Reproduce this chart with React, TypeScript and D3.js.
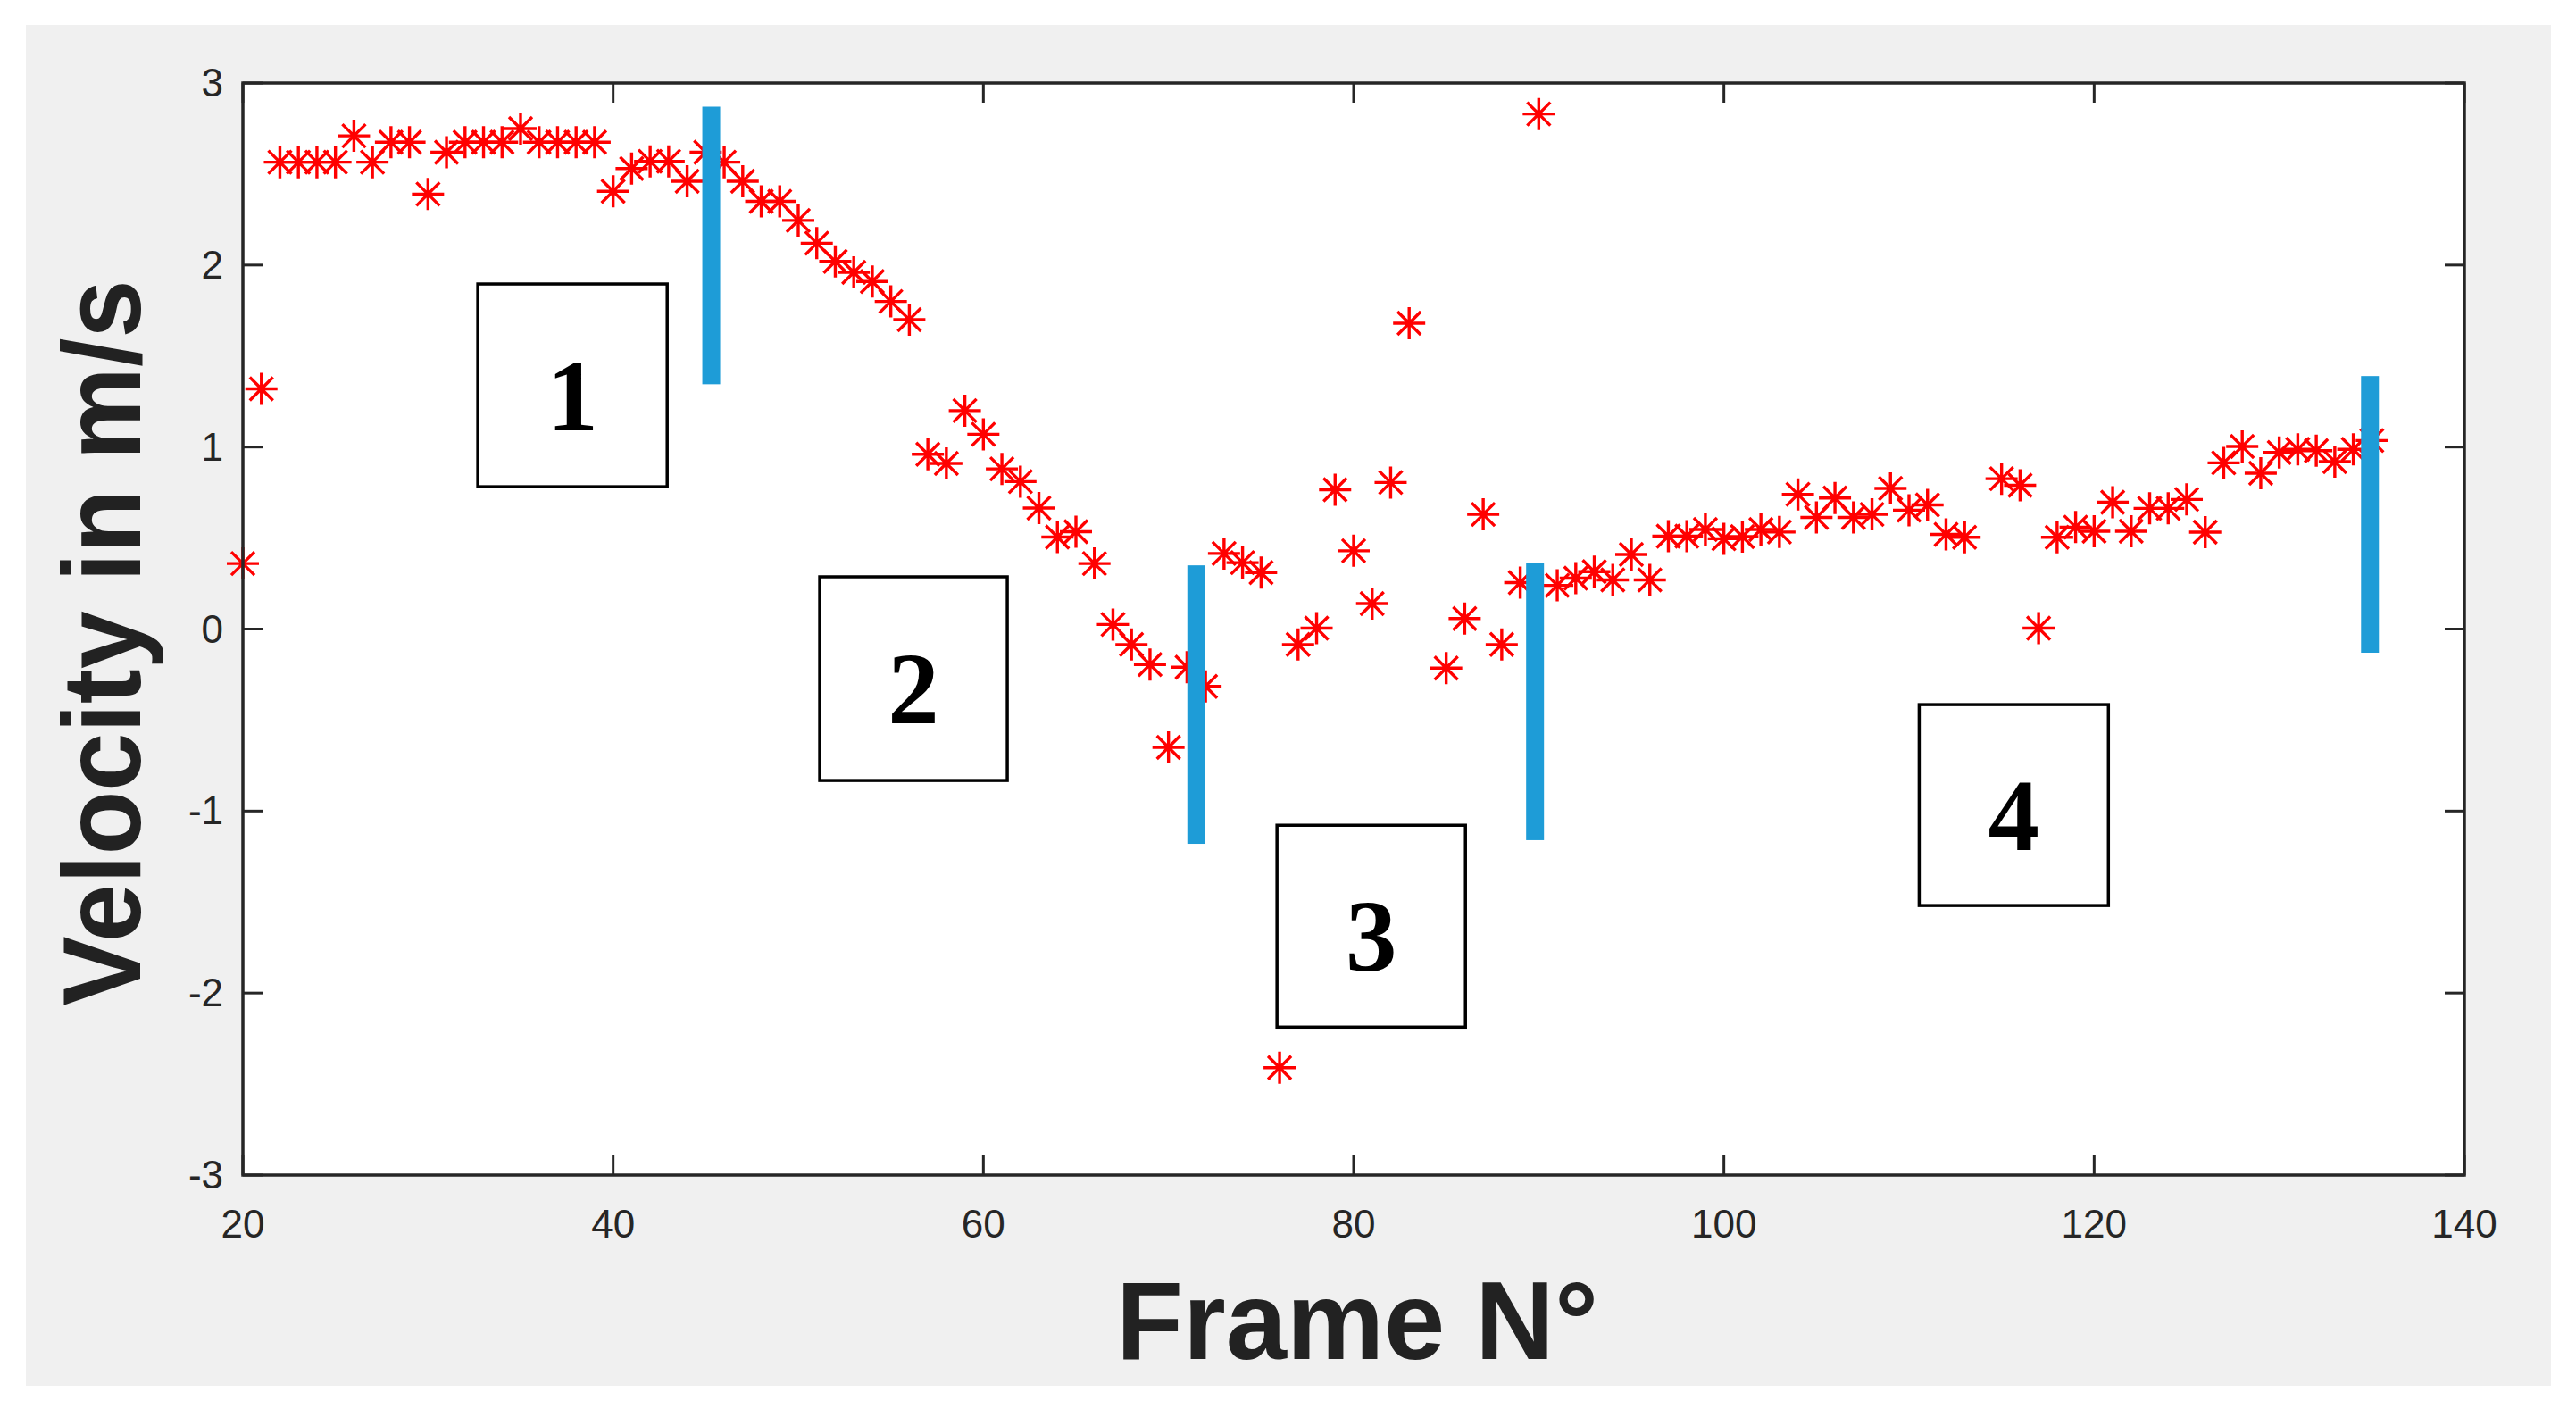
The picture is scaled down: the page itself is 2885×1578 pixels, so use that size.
import React from "react";
import * as d3 from "d3";

const frames = [
  20, 21, 22, 23, 24, 25, 26, 27, 28, 29, 30, 31, 32, 33, 34, 35, 36, 37, 38, 39,
  40, 41, 42, 43, 44, 45, 46, 47, 48, 49, 50, 51, 52, 53, 54, 55, 56, 57, 58, 59,
  60, 61, 62, 63, 64, 65, 66, 67, 68, 69, 70, 71, 72, 73, 74, 75, 76, 77, 78, 79,
  80, 81, 82, 83, 85, 86, 87, 88, 89, 90, 91, 92, 93, 94, 95, 96, 97, 98, 99,
  100, 101, 102, 103, 104, 105, 106, 107, 108, 109, 110, 111, 112, 113, 115, 116, 117, 118, 119,
  120, 121, 122, 123, 124, 125, 126, 127, 128, 129, 130, 131, 132, 133, 134, 135,
];

const velocity = [
  0.36, 1.32, 2.565, 2.565, 2.565, 2.565, 2.71, 2.565, 2.675, 2.675, 2.39, 2.62, 2.675, 2.675, 2.675, 2.75, 2.675, 2.675, 2.675, 2.675,
  2.405, 2.53, 2.57, 2.57, 2.46, 2.62, 2.565, 2.46, 2.35, 2.35, 2.245, 2.12, 2.02, 1.96, 1.91, 1.8, 1.7, 0.96, 0.91, 1.2,
  1.07, 0.88, 0.81, 0.665, 0.505, 0.535, 0.36, 0.025, -0.085, -0.195, -0.65, -0.21, -0.315, 0.415, 0.365, 0.31, -2.41, -0.085, 0.005, 0.765,
  0.43, 0.14, 0.805, 1.68, -0.215, 0.058, 0.63, -0.085, 0.255, 2.83, 0.24, 0.28, 0.315, 0.27, 0.41, 0.27, 0.51, 0.51, 0.547,
  0.496, 0.508, 0.547, 0.533, 0.74, 0.613, 0.72, 0.613, 0.63, 0.773, 0.653, 0.682, 0.52, 0.504, 0.826, 0.79, 0.005, 0.504, 0.56,
  0.537, 0.697, 0.537, 0.663, 0.663, 0.712, 0.532, 0.913, 1.003, 0.856, 0.97, 0.987, 0.98, 0.92, 0.987, 1.036,
];

const xTicks = [20, 40, 60, 80, 100, 120, 140];
const yTicks = [-3, -2, -1, 0, 1, 2, 3];

// segment separators (data units)
const segFrame = [45.3, 71.5, 89.8, 134.9];
const segTop = [2.87, 0.35, 0.365, 1.39];
const segBottom = [1.345, -1.18, -1.16, -0.13];

// phase label boxes (data units)
const boxLabels = ["1", "2", "3", "4"];
const boxX0 = [32.69, 51.16, 75.86, 110.55];
const boxX1 = [42.92, 61.29, 86.04, 120.77];
const boxYTop = [1.896, 0.287, -1.078, -0.415];
const boxYBottom = [0.782, -0.832, -2.187, -1.519];

const W = 2885;
const H = 1578;
const L = 272, R = 2760, T = 93, B = 1316;

export default function App() {
  const x = d3.scaleLinear().domain([20, 140]).range([L, R]);
  const y = d3.scaleLinear().domain([-3, 3]).range([B, T]);
  const axisColor = "#262626";
  const r = 18;
  const d = 13;

  return (
    <svg width={W} height={H} style={{ position: "absolute", left: 0, top: 0 }} fontFamily="'Liberation Sans', Arial, sans-serif">
      <rect x={0} y={0} width={W} height={H} fill="#ffffff" />
      <rect x={29} y={28} width={2828} height={1524} fill="#f0f0f0" />
      <rect x={L} y={T} width={R - L} height={B - T} fill="#ffffff" />

      {/* markers */}
      <g stroke="#ff0000" strokeWidth={3.4} fill="none">
        {frames.map((f, i) => {
          const cx = x(f);
          const cy = y(velocity[i]);
          return (
            <path
              key={i}
              d={`M${cx - r},${cy}H${cx + r}M${cx},${cy - r}V${cy + r}M${cx - d},${cy - d}L${cx + d},${cy + d}M${cx - d},${cy + d}L${cx + d},${cy - d}`}
            />
          );
        })}
      </g>

      {/* segment bars */}
      {segFrame.map((f, i) => (
        <rect key={i} x={x(f) - 10} y={y(segTop[i])} width={20} height={y(segBottom[i]) - y(segTop[i])} fill="#1e9cd7" />
      ))}

      {/* boxes */}
      {boxLabels.map((lab, i) => {
        const x0 = x(boxX0[i]);
        const x1 = x(boxX1[i]);
        const y0 = y(boxYTop[i]);
        const y1 = y(boxYBottom[i]);
        return (
          <g key={i}>
            <rect x={x0} y={y0} width={x1 - x0} height={y1 - y0} fill="#ffffff" stroke="#000" strokeWidth={3.5} />
            <text
              x={(x0 + x1) / 2}
              y={(y0 + y1) / 2 + 50}
              textAnchor="middle"
              fontFamily="'Liberation Serif', 'Times New Roman', serif"
              fontWeight="bold"
              fontSize={115}
              fill="#000"
            >
              {lab}
            </text>
          </g>
        );
      })}

      {/* axes box */}
      <rect x={L} y={T} width={R - L} height={B - T} fill="none" stroke={axisColor} strokeWidth={3.5} />
      {xTicks.map((t) => (
        <g key={"x" + t}>
          <line x1={x(t)} x2={x(t)} y1={B} y2={B - 22} stroke={axisColor} strokeWidth={3} />
          <line x1={x(t)} x2={x(t)} y1={T} y2={T + 22} stroke={axisColor} strokeWidth={3} />
          <text x={x(t)} y={1386} textAnchor="middle" fontSize={44} fill={axisColor}>
            {t}
          </text>
        </g>
      ))}
      {yTicks.map((t) => (
        <g key={"y" + t}>
          <line x1={L} x2={L + 22} y1={y(t)} y2={y(t)} stroke={axisColor} strokeWidth={3} />
          <line x1={R} x2={R - 22} y1={y(t)} y2={y(t)} stroke={axisColor} strokeWidth={3} />
          <text x={250} y={y(t) + 15} textAnchor="end" fontSize={44} fill={axisColor}>
            {t}
          </text>
        </g>
      ))}

      <text
        transform={`translate(157,720) rotate(-90)`}
        textAnchor="middle"
        fontWeight="bold"
        fontSize={124}
        textLength={813}
        lengthAdjust="spacingAndGlyphs"
        fill="#222"
      >
        Velocity in m/s
      </text>
      <text
        x={1520}
        y={1522}
        textAnchor="middle"
        fontWeight="bold"
        fontSize={124}
        textLength={540}
        lengthAdjust="spacingAndGlyphs"
        fill="#222"
      >
        Frame N°
      </text>
    </svg>
  );
}
